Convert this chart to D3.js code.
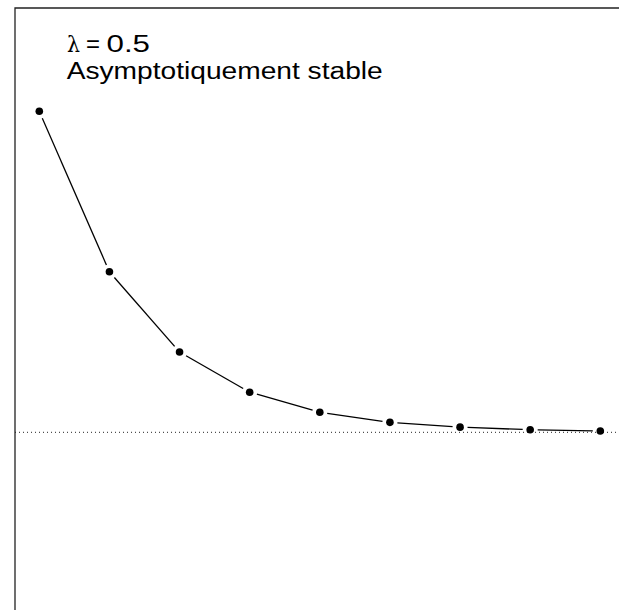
<!DOCTYPE html>
<html>
<head>
<meta charset="utf-8">
<script src="https://cdn.jsdelivr.net/npm/d3@7"></script>
<style>
  html, body { margin: 0; padding: 0; background: #fff; overflow: hidden; }
  svg { display: block; }
</style>
</head>
<body>
<svg id="chart" width="619" height="610"></svg>
<script>
// Iterates of the sequence (deviation from the fixed point) for lambda = 0.5
const steps = [0, 1, 2, 3, 4, 5, 6, 7, 8];
const values = [1, 0.5, 0.25, 0.125, 0.0625, 0.031, 0.016, 0.008, 0.004];
const equilibrium = [0];
const lambdaLabel = ["λ", "=", "0.5"];
const statusLabel = ["Asymptotiquement stable"];

const svg = d3.select("#chart");
const W = 619, H = 610;

const x = d3.scaleLinear().domain([0, 8]).range([39.3, 600.3]);
const y = d3.scaleLinear().domain([0, 1]).range([432.3, 111.3]);

// Plot frame: only the left and top sides fall inside the view
svg.append("path")
  .attr("d", `M15,${H + 5}V8H${W + 5}`)
  .attr("fill", "none")
  .attr("stroke", "#222")
  .attr("stroke-width", 1.3);

// Fixed point reference line
svg.selectAll("line.eq").data(equilibrium).join("line")
  .attr("class", "eq")
  .attr("x1", 15).attr("x2", W)
  .attr("y1", d => y(d)).attr("y2", d => y(d))
  .attr("stroke", "#222")
  .attr("stroke-width", 1)
  .attr("stroke-dasharray", "1,3");

const pts = steps.map((s, i) => ({ px: x(s), py: y(values[i]) }));

// Connecting segments, shortened near each point (type "b")
const gap = 7.5;
const segs = d3.pairs(pts).map(([a, b]) => {
  const dx = b.px - a.px, dy = b.py - a.py;
  const len = Math.hypot(dx, dy);
  const ux = dx / len, uy = dy / len;
  return { x1: a.px + ux * gap, y1: a.py + uy * gap, x2: b.px - ux * gap, y2: b.py - uy * gap };
});
svg.selectAll("line.seg").data(segs).join("line")
  .attr("class", "seg")
  .attr("x1", d => d.x1).attr("y1", d => d.y1)
  .attr("x2", d => d.x2).attr("y2", d => d.y2)
  .attr("stroke", "#000")
  .attr("stroke-width", 1.3);

// Points
svg.selectAll("circle.pt").data(pts).join("circle")
  .attr("class", "pt")
  .attr("cx", d => d.px).attr("cy", d => d.py)
  .attr("r", 3.8)
  .attr("fill", "#000");

// Annotation
const font = "'Liberation Sans', Arial, Helvetica, sans-serif";
const t1 = svg.append("text")
  .attr("y", 51.7)
  .attr("font-family", font)
  .attr("font-size", 23.5)
  .attr("fill", "#000");
t1.append("tspan").attr("x", 67).attr("font-family", "'DejaVu Serif', serif").attr("font-size", 22)
  .attr("textLength", 13).attr("lengthAdjust", "spacingAndGlyphs").text(lambdaLabel[0]);
t1.append("tspan").attr("x", 86).text(lambdaLabel[1]).attr("textLength", 14).attr("lengthAdjust", "spacingAndGlyphs");
t1.append("tspan").attr("x", 106.5).text(lambdaLabel[2]).attr("textLength", 43.5).attr("lengthAdjust", "spacingAndGlyphs");

svg.append("text")
  .attr("x", 66.7).attr("y", 79)
  .attr("font-family", font)
  .attr("font-size", 23.5)
  .attr("fill", "#000")
  .attr("textLength", 316)
  .attr("lengthAdjust", "spacingAndGlyphs")
  .text(statusLabel[0]);
</script>
</body>
</html>
